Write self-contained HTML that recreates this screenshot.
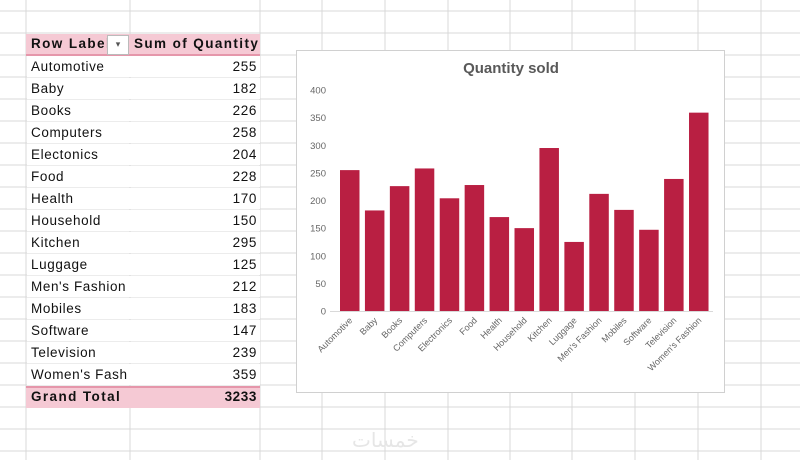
<!DOCTYPE html>
<html><head><meta charset="utf-8"><style>
body{margin:0;width:800px;height:460px;overflow:hidden;background:#fff;font-family:"Liberation Sans",sans-serif;position:relative}
.abs{position:absolute}
.cell{position:absolute;font-size:13.5px;color:#111;line-height:22px;height:22px;letter-spacing:0.6px}
.hd{letter-spacing:1.4px}
</style></head><body>
<svg class="abs" style="left:0;top:0" width="800" height="460" id="grid"></svg>
<div class="abs" style="left:26px;top:34px;width:234px;height:20px;background:#f5c9d4;border-bottom:2px solid #e596aa"></div>
<div class="cell hd" style="left:31px;top:33px;font-weight:bold;width:76px;overflow:hidden;white-space:nowrap">Row Labels</div>
<div class="abs" style="left:107px;top:35px;width:20px;height:18px;background:#fff;border:1px solid #bbb;font-size:9px;text-align:center;line-height:16px;color:#555">▾</div>
<div class="cell hd" style="left:134px;top:33px;font-weight:bold;white-space:nowrap">Sum of Quantity</div>
<div id="rows"></div>
<div class="abs" style="left:26px;top:386px;width:234px;height:20px;background:#f5c9d4;border-top:2px solid #e596aa"></div>
<div class="cell hd" style="left:31px;top:386px;font-weight:bold">Grand Total</div>
<div class="cell hd" style="left:190px;width:67px;text-align:right;top:386px;font-weight:bold;letter-spacing:0.6px">3233</div>
<svg class="abs" style="left:0;top:0" width="800" height="460" id="chart"></svg>
<div class="abs" style="left:352px;top:428px;font-size:20px;color:#e6e6e6;font-family:'DejaVu Sans',sans-serif">خمسات</div>
<script>
const cats=["Automotive","Baby","Books","Computers","Electronics","Food","Health","Household","Kitchen","Luggage","Men's Fashion","Mobiles","Software","Television","Women's Fashion"];
const tableLabels=["Automotive","Baby","Books","Computers","Electonics","Food","Health","Household","Kitchen","Luggage","Men's Fashion","Mobiles","Software","Television","Women's Fash"];
const values=[255,182,226,258,204,228,170,150,295,125,212,183,147,239,359];
const ticks=[0,50,100,150,200,250,300,350,400];
const NS="http://www.w3.org/2000/svg";
function mk(p,t,a){const e=document.createElementNS(NS,t);for(const k in a)e.setAttribute(k,a[k]);p.appendChild(e);return e;}
const g=document.getElementById('grid');
[26,130,260,322,385,448,510,572,635,698,761].forEach(x=>{const l=mk(g,'line',{x1:x,y1:0,x2:x,y2:460,stroke:'#d9d9d9'});});
for(let y=11;y<460;y+=22){const l=mk(g,'line',{x1:0,y1:y,x2:800,y2:y,stroke:'#d9d9d9'});}
const rows=document.getElementById('rows');
tableLabels.forEach((c,i)=>{
 const y=56+i*22;
 const bg=document.createElement('div');bg.className='abs';bg.style.cssText=`left:27px;top:${y}px;width:233px;height:21px;background:#fff`;
 rows.appendChild(bg);
 const a=document.createElement('div');a.className='cell';a.style.cssText=`left:31px;top:${y}px;white-space:nowrap`;a.textContent=c;
 rows.appendChild(a);
 const b=document.createElement('div');b.className='cell';b.style.cssText=`left:190px;width:67px;text-align:right;top:${y}px`;b.textContent=values[i];
 rows.appendChild(b);
});
const s=document.getElementById('chart');
const box=mk(s,'rect',{x:296.5,y:50.5,width:428,height:342,fill:'#fff',stroke:'#d0d0d0'});

const t=mk(s,'text',{x:511,y:73,'text-anchor':'middle','font-size':15,'font-weight':'bold',fill:'#595959','font-family':'Liberation Sans'});t.textContent='Quantity sold';

const y0=311,ppu=221/400;const Y=v=>y0-v*ppu;
const X=i=>340+i*24.93;
ticks.forEach(v=>{const e=mk(s,'text',{x:326,y:Y(v)+3.5,'text-anchor':'end','font-size':9.5,fill:'#666'});e.textContent=v;
 });
values.forEach((v,i)=>{const r=mk(s,'rect',{x:X(i),y:Y(v),width:19.5,height:v*ppu,fill:'#b91f42'});
 });
const ax=mk(s,'line',{x1:330,y1:y0+0.5,x2:713,y2:y0+0.5,stroke:'#d9d9d9'});
cats.forEach((c,i)=>{const cx=X(i)+13,cy=y0+10;const e=mk(s,'text',{x:cx,y:cy,'text-anchor':'end','font-size':9,fill:'#666',transform:`rotate(-45 ${cx} ${cy})`});e.textContent=c;
 });
</script>
</body></html>
